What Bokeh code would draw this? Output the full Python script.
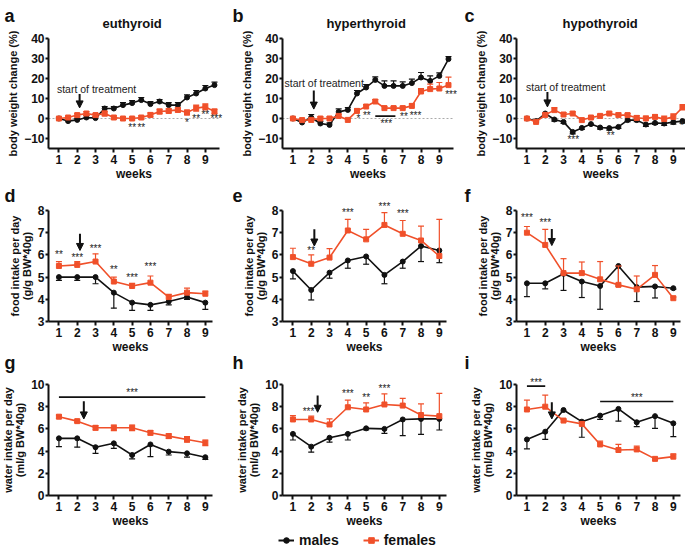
from bokeh.plotting import figure
from bokeh.layouts import column, row
from bokeh.models import Label, Arrow, NormalHead, Legend, LegendItem, FixedTicker, Range1d
from bokeh.core.properties import value
from bokeh.embed import file_html
from bokeh.resources import INLINE

FONT = "Liberation Sans"
BLACK = "#111111"
RED = "#F0502A"

weeks_half = [1, 1.5, 2, 2.5, 3, 3.5, 4, 4.5, 5, 5.5, 6, 6.5, 7, 7.5, 8, 8.5, 9, 9.5]
weeks = [1, 2, 3, 4, 5, 6, 7, 8, 9]

# ---- body weight change (%) ----
a_m = [0, -1.3, -0.7, 0.5, 0.2, 5.0, 5.0, 6.7, 7.7, 9.2, 7.2, 8.5, 6.7, 6.7, 10.5, 12.5, 15.0, 16.7]
a_m_err = [0.3, 0.8, 0.8, 1.0, 0.8, 1.0, 1.0, 1.2, 1.2, 1.3, 1.2, 1.0, 1.2, 1.3, 1.3, 1.5, 1.5, 1.5]
a_f = [0, 0.5, 1.7, 2.5, 1.7, 2.5, 0.5, 0.0, 0.0, 0.5, 1.8, 3.5, 3.8, 4.3, 3.0, 5.2, 5.8, 3.5]
a_f_err = [0.3, 0.6, 0.8, 1.0, 0.8, 1.2, 0.8, 0.7, 0.7, 0.8, 1.0, 1.2, 1.0, 1.0, 1.2, 1.5, 1.5, 1.2]
a_star_x = [5.0, 5.5, 8.0, 8.5, 9.0, 9.6]
a_star_y = [-4.5, -4.5, -2.0, 0.2, 2.2, 0.0]
a_star_t = ["**", "**", "*", "**", "**", "***"]

b_m = [0, -2.0, 0.5, -2.5, -3.2, 3.3, 4.3, 12.5, 15.5, 19.3, 16.3, 16.3, 16.3, 17.7, 20.5, 18.8, 21.3, 29.7]
b_m_err = [0.3, 0.8, 1.5, 1.0, 1.0, 1.5, 1.2, 1.5, 1.5, 1.5, 2.5, 2.5, 2.0, 2.0, 2.5, 2.5, 1.5, 1.2]
b_f = [0, -0.8, -0.7, 0.0, 0.0, 1.3, -0.7, 3.8, 6.0, 8.5, 5.2, 5.2, 5.2, 6.3, 13.5, 14.7, 15.0, 16.7]
b_f_err = [0.3, 0.5, 0.8, 0.8, 0.8, 0.8, 0.8, 1.0, 1.0, 1.0, 0.8, 0.8, 0.8, 1.0, 1.5, 2.5, 3.0, 4.0]
b_star_x = [4.58, 5.04, 6.1, 7.07, 7.7, 9.64]
b_star_y = [0.2, 1.3, -2.5, 0.8, 1.3, 11.8]
b_star_t = ["*", "**", "***", "**", "***", "***"]
b_bar = [(5.5, 6.6, 1.2)]

c_m = [0, -1.3, 2.5, -0.5, -1.7, -6.7, -4.7, -2.8, -4.5, -4.8, -4.2, -0.8, -0.8, -3.0, -2.2, -2.5, -1.8, -1.3]
c_m_err = [0.3, 0.5, 1.0, 0.8, 0.8, 1.0, 0.8, 0.5, 0.8, 1.0, 0.8, 0.8, 0.8, 1.0, 0.8, 1.0, 1.0, 1.0]
c_f = [0, -1.7, 1.8, 4.2, 2.0, 2.5, -0.8, 0.5, 1.3, 2.5, 1.7, 1.7, 0.3, 0.0, 0.8, -0.3, 0.8, 5.5]
c_f_err = [0.3, 0.5, 1.0, 1.2, 1.0, 0.8, 0.8, 0.8, 0.8, 0.8, 1.0, 0.8, 1.2, 1.2, 1.0, 1.5, 1.5, 1.5]
c_star_x = [3.53, 5.58, 9.47]
c_star_y = [-10.5, -8.4, -3.5]
c_star_t = ["***", "**", "*"]

# ---- food intake per day (g/g BW*40g) ----
d_m = [5.0, 5.0, 5.0, 4.3, 3.85, 3.75, 3.9, 4.1, 3.85]
d_m_err = [0.15, 0.15, 0.3, 0.7, 0.35, 0.25, 0.15, 0.1, 0.3]
d_f = [5.5, 5.55, 5.7, 4.8, 4.6, 4.75, 4.1, 4.3, 4.25]
d_f_err = [0.2, 0.15, 0.35, 0.2, 0.12, 0.3, 0.12, 0.2, 0.12]
d_star_x = [1, 2, 3, 4, 5, 6]
d_star_y = [6.0, 5.87, 6.3, 5.35, 5.0, 5.5]
d_star_t = ["**", "***", "***", "**", "***", "***"]

e_m = [5.27, 4.42, 5.2, 5.75, 5.93, 5.1, 5.7, 6.4, 6.2]
e_m_err = [0.35, 0.45, 0.25, 0.35, 0.35, 0.4, 0.3, 0.7, 0.55]
e_f = [5.9, 5.6, 5.88, 7.1, 6.7, 7.35, 6.95, 6.65, 5.95]
e_f_err = [0.4, 0.4, 0.4, 0.5, 0.45, 0.55, 0.6, 0.65, 1.65]
e_star_x = [2, 4, 6, 7]
e_star_y = [6.2, 7.9, 8.2, 7.85]
e_star_t = ["**", "***", "***", "***"]

f_m = [4.72, 4.72, 5.15, 4.8, 4.6, 5.5, 4.55, 4.58, 4.5]
f_m_err = [0.6, 0.25, 0.75, 0.72, 1.05, 0.9, 0.65, 0.52, 0.05]
f_f = [7.0, 6.45, 5.18, 5.18, 4.9, 4.65, 4.45, 5.1, 4.05]
f_f_err = [0.28, 0.7, 0.65, 0.5, 0.8, 0.85, 0.6, 0.42, 0.05]
f_star_x = [1, 2]
f_star_y = [7.7, 7.47]
f_star_t = ["***", "***"]

# ---- water intake per day (ml/g BW*40g) ----
g_m = [5.15, 5.15, 4.35, 4.7, 3.65, 4.6, 3.95, 3.8, 3.45]
g_m_err = [0.75, 0.8, 0.55, 0.45, 0.35, 1.1, 0.3, 0.35, 0.2]
g_f = [7.1, 6.7, 6.1, 6.1, 6.1, 5.65, 5.35, 5.05, 4.75]
g_f_err = [0.15, 0.12, 0.2, 0.25, 0.25, 0.2, 0.2, 0.25, 0.25]
g_star_x = [5]
g_star_y = [9.3]
g_star_t = ["***"]
g_bar = [(1, 9, 8.86)]

h_m = [5.55, 4.4, 5.2, 5.55, 6.05, 6.0, 6.85, 6.9, 6.9]
h_m_err = [0.55, 0.5, 0.4, 0.55, 0.15, 0.4, 1.45, 1.4, 1.0]
h_f = [6.85, 6.85, 6.4, 7.95, 7.75, 8.2, 8.1, 7.25, 7.15]
h_f_err = [0.35, 0.3, 0.5, 0.65, 0.6, 0.95, 0.65, 1.0, 2.05]
h_star_x = [1.85, 4, 5, 6]
h_star_y = [7.6, 9.2, 8.85, 9.65]
h_star_t = ["***", "***", "**", "***"]

i_m = [5.05, 5.75, 7.7, 6.65, 7.2, 7.8, 6.6, 7.15, 6.5]
i_m_err = [0.85, 0.7, 0.1, 1.4, 0.35, 1.1, 0.4, 1.1, 1.2]
i_f = [7.75, 8.0, 6.75, 6.45, 4.6, 4.1, 4.15, 3.3, 3.5]
i_f_err = [0.85, 1.05, 0.1, 0.2, 0.3, 0.5, 0.3, 0.1, 0.25]
i_star_x = [1.5, 7]
i_star_y = [10.2, 8.8]
i_star_t = ["***", "***"]
i_bar = [(1, 2, 9.85), (5, 9, 8.47)]

# arrows: x, y_start, y_end ; treatment text: x, y
arrows = {"a": (2.13, 12.3, 5.3), "b": (2.14, 14.0, 4.7), "c": (2.12, 13.3, 5.8),
          "d": (2.15, 6.95, 6.2), "e": (2.17, 7.15, 6.4), "f": (2.36, 7.17, 6.42),
          "g": (2.36, 8.5, 6.9), "h": (2.35, 9.0, 7.5), "i": (2.36, 8.4, 6.9)}
treat_text = {"a": (0.89, 15.0), "b": (0.54, 17.7), "c": (0.95, 15.8)}
titles = {"a": "euthyroid", "b": "hyperthyroid", "c": "hypothyroid"}

# ---- layout (pixels) ----
COL_W = [230, 232, 223]          # figure widths
AXIS_PX = [48, 52, 54]           # y-axis position inside each figure
LETTER_PX = [4, 2, 2]
PX_PER_WEEK = 18.3
X_AXIS0 = 0.43                   # week value at the y axis
TITLE_BASE_PX = 23

row_cfg = [
    dict(h=180, ytop=40, ybot=-15, top_px=38, bot_px=148, ticks=[-10, 0, 10, 20, 30, 40],
         x_end=9.8, ylabel="body weight change (%)", letter_px=15),
    dict(h=173, ytop=8, ybot=3, top_px=30, bot_px=141, ticks=[3, 4, 5, 6, 7, 8],
         x_end=9.4, ylabel="food intake per day\n(g/g BW*40g)", letter_px=15),
    dict(h=177, ytop=10, ybot=0, top_px=31, bot_px=142, ticks=[0, 2, 4, 6, 8, 10],
         x_end=9.4, ylabel="water intake per day\n(ml/g BW*40g)", letter_px=9),
]

panels = [
    [("a", weeks_half, a_m, a_m_err, 1, a_f, a_f_err, 0, a_star_x, a_star_y, a_star_t, []),
     ("b", weeks_half, b_m, b_m_err, 1, b_f, b_f_err, 1, b_star_x, b_star_y, b_star_t, b_bar),
     ("c", weeks_half, c_m, c_m_err, -1, c_f, c_f_err, 1, c_star_x, c_star_y, c_star_t, [])],
    [("d", weeks, d_m, d_m_err, -1, d_f, d_f_err, 1, d_star_x, d_star_y, d_star_t, []),
     ("e", weeks, e_m, e_m_err, -1, e_f, e_f_err, 1, e_star_x, e_star_y, e_star_t, []),
     ("f", weeks, f_m, f_m_err, -1, f_f, f_f_err, 1, f_star_x, f_star_y, f_star_t, [])],
    [("g", weeks, g_m, g_m_err, -1, g_f, g_f_err, 0, g_star_x, g_star_y, g_star_t, g_bar),
     ("h", weeks, h_m, h_m_err, -1, h_f, h_f_err, 1, h_star_x, h_star_y, h_star_t, []),
     ("i", weeks, i_m, i_m_err, -1, i_f, i_f_err, 1, i_star_x, i_star_y, i_star_t, i_bar)],
]


def add_series(p, x, y, err, d, color, marker):
    lo = [yy - e if d <= 0 else yy for yy, e in zip(y, err)]
    hi = [yy + e if d >= 0 else yy for yy, e in zip(y, err)]
    p.segment(x, lo, x, hi, line_color=color, line_width=1.2)
    if d >= 0:
        p.scatter(x, hi, marker="dash", size=6, line_color=color, line_width=1.2)
    if d <= 0:
        p.scatter(x, lo, marker="dash", size=6, line_color=color, line_width=1.2)
    p.line(x, y, line_color=color, line_width=1.6)
    p.scatter(x, y, marker=marker, size=5, fill_color=color, line_color=color)


rows = []
for ri, cfg in enumerate(row_cfg):
    figs = []
    sy = (cfg["bot_px"] - cfg["top_px"]) / (cfg["ytop"] - cfg["ybot"])
    y_top = cfg["ytop"] + cfg["top_px"] / sy
    y_bot = y_top - cfg["h"] / sy
    for ci, pan in enumerate(panels[ri]):
        (key, xs, m, m_err, m_dir, fv, f_err, f_dir, sx, sy_, st, bars) = pan
        W = COL_W[ci]
        x_start = X_AXIS0 - AXIS_PX[ci] / PX_PER_WEEK
        x_stop = x_start + W / PX_PER_WEEK
        p = figure(width=W, height=cfg["h"],
                   x_range=Range1d(x_start, x_stop), y_range=Range1d(y_bot, y_top),
                   toolbar_location=None, output_backend="svg", min_border=0)
        p.outline_line_color = None
        p.grid.visible = False
        p.background_fill_color = "white"
        p.border_fill_color = "white"
        for ax in (p.xaxis[0], p.yaxis[0]):
            ax.axis_line_width = 2
            ax.axis_line_color = BLACK
            ax.major_tick_line_width = 2
            ax.major_tick_line_color = BLACK
            ax.major_tick_out = 4
            ax.major_tick_in = 0
            ax.minor_tick_line_color = None
            ax.major_label_text_font = FONT
            ax.major_label_text_font_style = "bold"
            ax.major_label_text_font_size = "12px"
            ax.major_label_text_color = BLACK
            ax.axis_label_text_font = FONT
            ax.axis_label_text_font_style = "bold"
            ax.axis_label_text_color = BLACK
        p.xaxis.fixed_location = cfg["ybot"]
        p.xaxis.bounds = (X_AXIS0, cfg["x_end"])
        p.xaxis.ticker = FixedTicker(ticks=weeks)
        p.xaxis.axis_label = "weeks"
        p.xaxis.axis_label_text_font_size = "12px"
        p.xaxis.major_label_standoff = 2
        p.xaxis.axis_label_standoff = 0
        p.yaxis.fixed_location = X_AXIS0
        p.yaxis.bounds = (cfg["ybot"], cfg["ytop"])
        p.yaxis.ticker = FixedTicker(ticks=cfg["ticks"])
        p.yaxis.axis_label = cfg["ylabel"]
        p.yaxis.axis_label_text_font_size = "11px"
        p.yaxis.axis_label_text_line_height = 1.0
        p.yaxis.major_tick_out = 3
        p.yaxis.major_label_standoff = 1
        p.yaxis.axis_label_standoff = 2

        if ri == 0:
            p.line([X_AXIS0, cfg["x_end"]], [0, 0], line_color="#aaaaaa",
                   line_dash="2 2", line_width=1)

        add_series(p, xs, m, m_err, m_dir, BLACK, "circle")
        add_series(p, xs, fv, f_err, f_dir, RED, "square")

        for (bx0, bx1, by) in bars:
            p.segment([bx0], [by], [bx1], [by], line_color=BLACK, line_width=1.6)
        p.text(sx, sy_, text=st, text_font=value(FONT), text_font_size="10px",
               text_align="center", text_baseline="alphabetic", y_offset=0,
               text_color="#222222")

        axx, ay0, ay1 = arrows[key]
        p.add_layout(Arrow(end=NormalHead(size=7, fill_color=BLACK, line_color=BLACK),
                           x_start=axx, y_start=ay0, x_end=axx, y_end=ay1,
                           line_width=2, line_color=BLACK))
        if key in treat_text:
            tx, ty = treat_text[key]
            p.add_layout(Label(x=tx, y=ty, text="start of treatment", text_font=FONT,
                               text_font_size="10.5px", text_baseline="middle",
                               text_align="left", text_color="#222222"))
            p.add_layout(Label(x=5.0, y=y_top - TITLE_BASE_PX / sy, text=titles[key],
                               text_font=FONT, text_font_size="13px", text_font_style="bold",
                               text_align="center", text_baseline="alphabetic",
                               text_color=BLACK))
        p.add_layout(Label(x=x_start + LETTER_PX[ci] / PX_PER_WEEK,
                           y=y_top - cfg["letter_px"] / sy, text=key,
                           text_font=FONT, text_font_size="18px", text_font_style="bold",
                           text_baseline="alphabetic", text_align="left", text_color=BLACK))
        figs.append(p)
    rows.append(row(*figs))

# legend strip
lg = figure(width=685, height=19, x_range=Range1d(0, 1), y_range=Range1d(0, 1),
            toolbar_location=None, output_backend="svg", x_axis_type=None, y_axis_type=None,
            min_border=0)
lg.outline_line_color = None
lg.grid.visible = False
r1 = lg.line([5, 6], [5, 6], line_color=BLACK, line_width=2)
r2 = lg.scatter([5.5], [5.5], marker="circle", size=5, fill_color=BLACK, line_color=BLACK)
r3 = lg.line([5, 6], [5, 6], line_color=RED, line_width=2)
r4 = lg.scatter([5.5], [5.5], marker="square", size=5, fill_color=RED, line_color=RED)
legend = Legend(items=[LegendItem(label="males", renderers=[r1, r2]),
                       LegendItem(label="females", renderers=[r3, r4])],
                orientation="horizontal", location=(278, 1),
                label_text_font=FONT, label_text_font_size="14px",
                label_text_font_style="bold", label_text_color=BLACK,
                glyph_width=16, glyph_height=14, label_height=14, spacing=24,
                padding=0, margin=0, border_line_color=None, background_fill_alpha=0)
lg.add_layout(legend)

layout = column(*rows, lg)
open("out.html", "w").write(file_html(layout, INLINE))
